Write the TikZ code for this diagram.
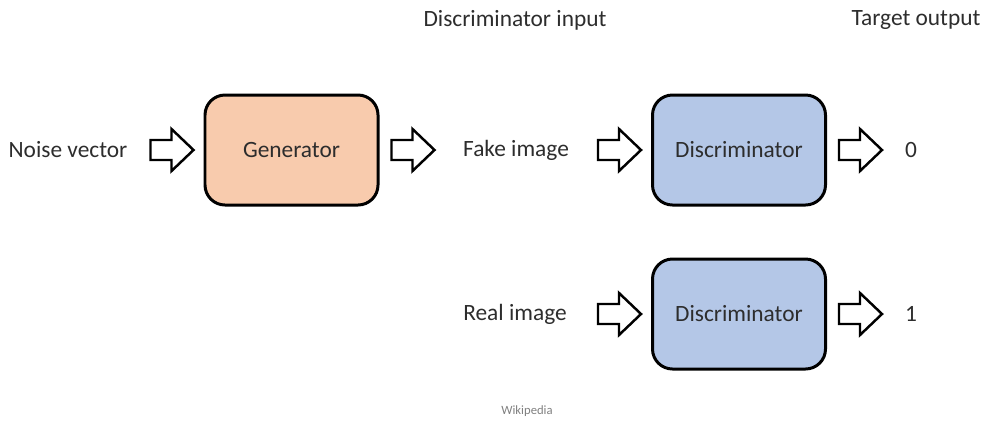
\documentclass[tikz,border=0pt]{standalone}
\usepackage{fontspec}
\setmainfont{Carlito}
\usepackage{tikz}
\usetikzlibrary{positioning,calc}
\definecolor{peach}{RGB}{248,203,173}
\definecolor{lightblue}{RGB}{180,199,231}
\definecolor{textgray}{RGB}{45,45,45}

\tikzset{
    netbox/.style={draw=black, line width=1.7pt, rounded corners=0.4cm,
        minimum width=3.46cm, minimum height=2.2cm, text=textgray,
        font=\fontsize{13.3}{16}\selectfont},
    label/.style={text=textgray, font=\fontsize{13.3}{16}\selectfont},
    blockarrow/.pic={
        \draw[line width=1.4pt, line join=miter, fill=white]
            (-0.86,0.2) -- (-0.44,0.2) -- (-0.44,0.42) -- (0,0)
            -- (-0.44,-0.42) -- (-0.44,-0.2) -- (-0.86,-0.2) -- cycle;
    }
}

\begin{document}
\begin{tikzpicture}
    \useasboundingbox (0,0) rectangle (19.78,-8.42);

    % Boxes
    \node[netbox, fill=peach] (gen) at (5.83,-3.0) {Generator};
    \node[netbox, fill=lightblue] (discfake) at (14.78,-3.0) {Discriminator};
    \node[netbox, fill=lightblue] (discreal) at (14.78,-6.28) {Discriminator};

    % Headings
    \node[label] (dinput) at (10.3,-0.4) {Discriminator input};
    \node[label] (target) at (18.32,-0.4) {Target output};

    % Inputs and outputs
    \node[label] (noise) at (1.36,-3.0) {Noise vector};
    \node[label] (fake) at (10.32,-3.0) {Fake image};
    \node[label] (real) at (10.3,-6.28) {Real image};
    \node[label] (zero) at (18.22,-3.0) {0};
    \node[label] (one) at (18.22,-6.28) {1};

    % Block arrows
    \pic at ($(gen.west)+(-0.2,0)$) {blockarrow};
    \pic at ($(gen.east)+(1.1,0)$) {blockarrow};
    \pic at ($(discfake.west)+(-0.2,0)$) {blockarrow};
    \pic at ($(discfake.east)+(1.1,0)$) {blockarrow};
    \pic at ($(discreal.west)+(-0.2,0)$) {blockarrow};
    \pic at ($(discreal.east)+(1.1,0)$) {blockarrow};

    \node[text=gray, font=\fontsize{7.2}{9}\selectfont] (source) at (10.54,-8.22) {Wikipedia};
\end{tikzpicture}
\end{document}
